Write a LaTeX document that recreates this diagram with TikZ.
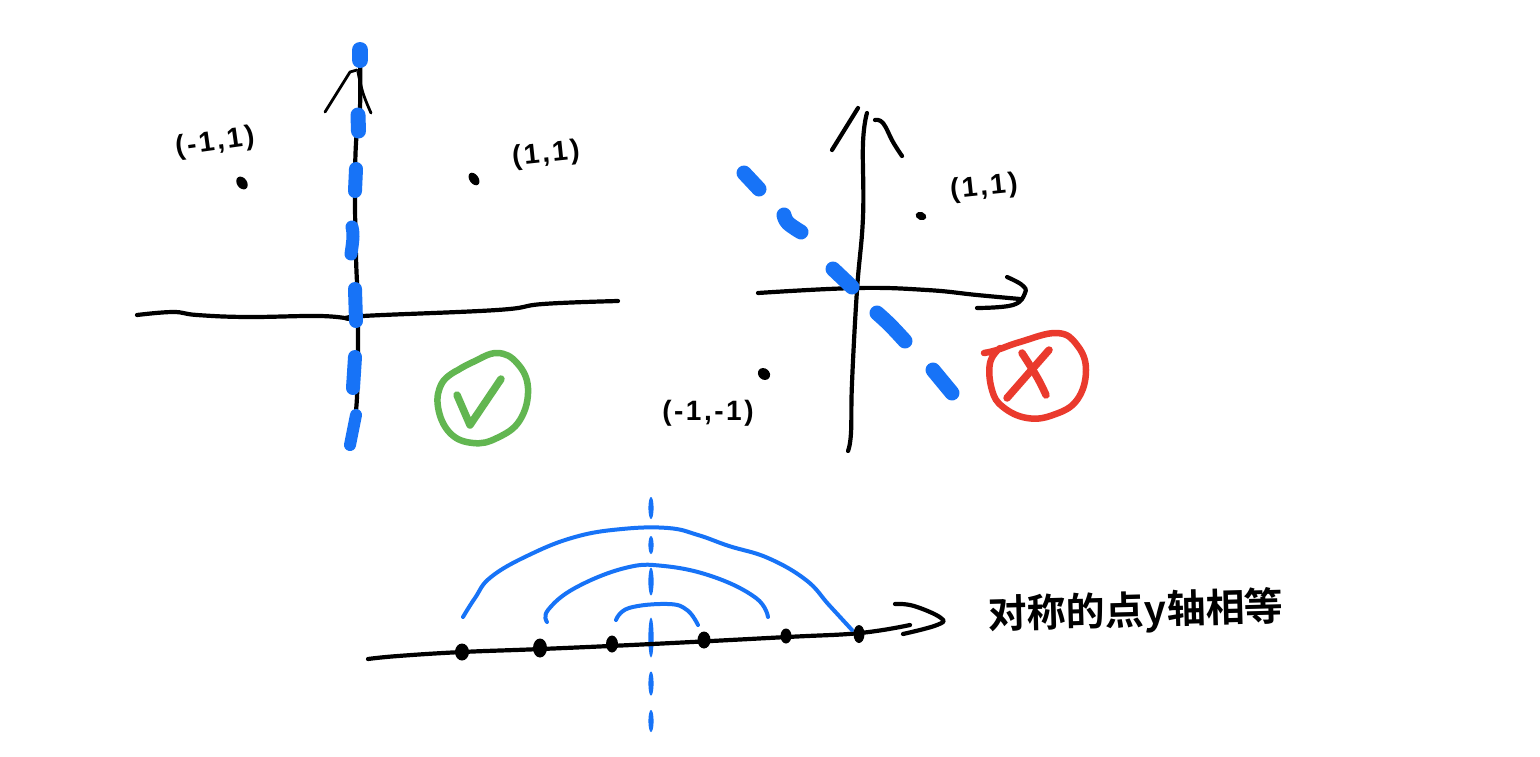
\documentclass[tikz,border=0pt]{standalone}
\usepackage{fontspec}
\setmainfont{Liberation Sans}
\newfontfamily\cjkhand{Noto Sans CJK SC}[BoldFont={Noto Sans CJK SC Bold}]
\definecolor{inkblue}{HTML}{1773F7}
\definecolor{inkgreen}{HTML}{62B651}
\definecolor{inkred}{HTML}{EA3A2D}
\usetikzlibrary{shapes.geometric}
\tikzset{
  ink/.style={line cap=round,line join=round},
  axisline/.style={ink,black,line width=4.2pt},
  thinhead/.style={ink,black,line width=2.8pt},
  fatdash/.style={ink,inkblue,line width=15pt},
  arcline/.style={ink,inkblue,line width=4pt},
  mark green/.style={ink,inkgreen,line width=6.5pt},
  mark red/.style={ink,inkred,line width=6.5pt},
  dotmark/.style={ellipse,fill=black,inner sep=0pt,minimum width=#1},
  handlabel/.style={font=\bfseries\fontsize{28}{28}\selectfont\addfontfeatures{LetterSpace=9,Kerning=Off},inner sep=0pt,black},
}
\newcommand{\sk}[2][]{\draw[#1] plot[smooth,tension=.7] coordinates {#2};}
\begin{document}
\begin{tikzpicture}[x=1pt,y=-1pt]
\useasboundingbox (0,0) rectangle (1540,756);
\fill[white] (0,0) rectangle (1540,756);

% --- left sketch ---
\sk[axisline]{(360,50)(360,107)(356,143)(355,197)(356,257)(358,317)(357,397)(352,440)}
\sk[axisline]{(137,315)(173,312)(197,315)(247,317)(320,316)(350,319)}
\sk[axisline]{(350,319)(363,316)(497,310)(543,304)(618,301)}
\draw[thinhead] (325,112) -- (350,72) -- (357,70);
\sk[thinhead]{(358,72)(363,93)(371,113)}
\draw[fatdash,line width=16pt] (360,50) -- (360,60);
\draw[fatdash] (358,115) -- (358.5,131);
\draw[fatdash,line width=14pt] (356,169) -- (355,191);
\sk[fatdash,line width=13pt]{(352,227)(353,237)(351,254)}
\draw[fatdash,line width=14pt] (355,289) -- (356,321);
\draw[fatdash,line width=14pt] (355,357) -- (353,388);
\sk[fatdash,line width=12pt]{(356,415)(353,430)(350,445)}
\node[dotmark=10pt,minimum height=14pt,rotate=35] (dotA) at (242,183) {};
\node[dotmark=9pt,minimum height=14pt,rotate=35] (dotB) at (474,179) {};
\node[handlabel,rotate=8] (labA) at (215,143) {(-1,1)};
\node[handlabel,rotate=6] (labB) at (546,155) {(1,1)};
\sk[mark green]{(458,370)(473,362)(497,353)(517,363)(528,388)(520,420)(497,438)(473,443)(450,433)(438,407)(442,383)(458,370)}
\draw[mark green,line width=7.5pt] (457,395) -- (470,425) -- (501,379);

% --- right sketch ---
\sk[axisline]{(867,113)(863,143)(863,217)(857,290)(852,383)(851,433)(848,451)}
\draw[axisline] (832,150) -- (858,108);
\sk[axisline]{(875,120)(883,123)(893,142)(902,156)}
\sk[axisline]{(758,293)(857,288)(927,290)(977,295)(1020,299)}
\sk[axisline]{(1007,277)(1022,285)(1025,293)(1013,305)(977,308)}
\draw[fatdash] (744,173) -- (759,189);
\sk[fatdash]{(784,215)(788,223)(801,232)}
\draw[fatdash] (833,269) -- (852,287);
\sk[fatdash]{(877,313)(890,325)(905,341)}
\draw[fatdash] (933,370) -- (952,393);
\node[dotmark=11pt,minimum height=8pt,rotate=-20] (dotC) at (921,216) {};
\node[dotmark=13pt,minimum height=11pt,rotate=-40] (dotD) at (764,374) {};
\node[handlabel,rotate=6] (labC) at (984,188) {(1,1)};
\node[handlabel] (labD) at (708,413) {(-1,-1)};
\sk[mark red]{(984,353)(997,350)(1020,342)(1057,333)(1077,345)(1086,370)(1077,400)(1053,415)(1027,418)(1003,407)(992,390)(990,363)(1000,348)}
\draw[mark red,line width=7.5pt] (1049,350) -- (1007,398);
\sk[mark red,line width=7.5pt]{(1022,353)(1037,377)(1046,395)}

% --- bottom sketch ---
\foreach \yc/\yh in {508/11,545/9,581.5/14,637.5/20,683.5/12,721/11}
  \fill[inkblue] (651,\yc) ellipse (2.6pt and \yh pt);
\sk[axisline]{(368,659)(398,656)(462,652)(541,649)(652,644)(787,637)(860,633)(910,625)}
\sk[axisline]{(895,604)(914,606)(941,618)(937,625)(903,634)}
\sk[arcline]{(463,617)(475,598)(491,577)(529,555)(575,537)(622,529)(668,528)(698,535)(729,546)(768,558)(806,580)(829,605)(852,630)}
\sk[arcline]{(547,622)(548,610)(575,588)(625,568)(664,566)(714,577)(756,598)(768,617)}
\sk[arcline]{(616,620)(629,608)(668,604)(687,610)(698,625)}
\node[dotmark=14pt,minimum height=17pt] (p1) at (462,652) {};
\node[dotmark=14pt,minimum height=19pt] (p2) at (540,648) {};
\node[dotmark=12pt,minimum height=17pt] (p3) at (612,644) {};
\node[dotmark=13pt,minimum height=17pt] (p4) at (704,640) {};
\node[dotmark=11pt,minimum height=15pt] (p5) at (786,636) {};
\node[dotmark=11pt,minimum height=18pt] (p6) at (859,634) {};
\node[inner sep=0pt,rotate=1.5,font=\cjkhand\bfseries\fontsize{39}{39}\selectfont,black] (caption) at (1136,612) {对称的点y轴相等};
\end{tikzpicture}
\end{document}
